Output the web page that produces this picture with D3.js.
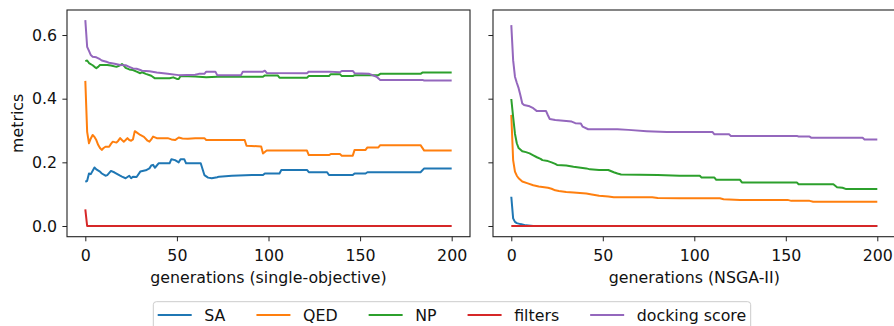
<!DOCTYPE html>
<html>
<head>
<meta charset="utf-8">
<script src="https://cdn.jsdelivr.net/npm/d3@7"></script>
<style>
  body { margin: 0; background: #fff; }
  svg { display: block; font-family: "DejaVu Sans", sans-serif; }
</style>
</head>
<body>
<script>
// series names and colours (matplotlib tab10)
var seriesNames = ["SA", "QED", "NP", "filters", "docking score"];
var seriesColors = ["#1f77b4", "#ff7f0e", "#2ca02c", "#d62728", "#9467bd"];

var xTicks = [0, 50, 100, 150, 200];
var yTicks = [0, 0.2, 0.4, 0.6];
var xLabels = ["generations (single-objective)", "generations (NSGA-II)"];
var yLabel = "metrics";

// single-objective run: [generation, value]
var saSingle = [[0,0.139],[1,0.142],[2,0.165],[3,0.163],[5,0.184],[6,0.178],[8,0.171],[9,0.165],[11,0.158],[12,0.160],[14,0.173],[16,0.168],[19,0.158],[20,0.155],[22,0.150],[23,0.154],[24,0.158],[25,0.150],[26,0.155],[28,0.154],[30,0.171],[33,0.175],[35,0.181],[36,0.190],[37,0.192],[38,0.183],[40,0.197],[46,0.197],[47,0.210],[49,0.207],[51,0.200],[52,0.210],[54,0.210],[55,0.197],[63,0.197],[65,0.160],[67,0.152],[69,0.150],[72,0.153],[73,0.155],[80,0.158],[91,0.160],[97,0.160],[98,0.165],[106,0.165],[107,0.176],[121,0.176],[122,0.169],[132,0.169],[133,0.160],[146,0.160],[147,0.165],[153,0.165],[154,0.169],[183,0.169],[185,0.181],[200,0.181]];
var qedSingle = [[0,0.456],[1,0.296],[2,0.260],[3,0.275],[4,0.286],[5,0.280],[6,0.270],[7,0.255],[8,0.245],[9,0.239],[10,0.245],[11,0.249],[13,0.249],[14,0.258],[15,0.265],[17,0.262],[18,0.268],[19,0.276],[20,0.270],[21,0.265],[22,0.270],[23,0.276],[24,0.270],[25,0.268],[26,0.272],[27,0.298],[28,0.294],[30,0.286],[32,0.280],[34,0.268],[35,0.265],[36,0.272],[37,0.281],[39,0.276],[45,0.276],[47,0.272],[49,0.270],[51,0.278],[53,0.275],[56,0.274],[60,0.276],[65,0.276],[66,0.270],[87,0.270],[88,0.252],[96,0.250],[97,0.228],[99,0.237],[121,0.237],[122,0.223],[133,0.223],[134,0.226],[139,0.226],[140,0.221],[146,0.221],[147,0.239],[153,0.239],[154,0.247],[160,0.247],[161,0.254],[183,0.254],[185,0.237],[200,0.237]];
var npSingle = [[0,0.518],[1,0.520],[2,0.512],[4,0.505],[5,0.500],[6,0.496],[7,0.500],[8,0.506],[12,0.506],[14,0.504],[17,0.500],[19,0.505],[20,0.509],[21,0.504],[22,0.497],[24,0.492],[26,0.490],[28,0.485],[30,0.480],[31,0.483],[33,0.478],[36,0.472],[38,0.464],[46,0.464],[48,0.467],[50,0.462],[51,0.462],[52,0.471],[60,0.470],[64,0.468],[66,0.467],[72,0.469],[97,0.469],[98,0.473],[105,0.473],[106,0.466],[121,0.466],[122,0.471],[133,0.471],[134,0.477],[139,0.477],[140,0.471],[146,0.471],[147,0.474],[160,0.474],[161,0.478],[183,0.478],[184,0.482],[200,0.482]];
var filtersSingle = [[0,0.052],[1,0],[200,0]];
var dockSingle = [[0,0.647],[1,0.563],[2,0.550],[3,0.537],[4,0.532],[6,0.530],[8,0.524],[9,0.520],[12,0.515],[13,0.513],[16,0.510],[19,0.506],[22,0.505],[24,0.500],[26,0.495],[28,0.494],[30,0.490],[31,0.488],[35,0.486],[39,0.482],[45,0.478],[51,0.474],[60,0.475],[62,0.478],[65,0.478],[66,0.485],[71,0.485],[72,0.474],[85,0.474],[86,0.485],[97,0.485],[98,0.488],[99,0.481],[121,0.480],[122,0.485],[133,0.485],[139,0.483],[140,0.487],[146,0.487],[147,0.480],[155,0.478],[159,0.469],[161,0.459],[184,0.459],[185,0.457],[200,0.457]];

// NSGA-II run: [generation, value]
var saNsga = [[0,0.092],[1,0.024],[2,0.013],[3,0.009],[5,0.006],[8,0.002],[12,0],[200,0]];
var qedNsga = [[0,0.349],[1,0.207],[2,0.171],[3,0.158],[4,0.150],[6,0.140],[9,0.134],[12,0.128],[15,0.124],[20,0.120],[22,0.117],[24,0.112],[26,0.110],[30,0.107],[34,0.105],[41,0.102],[44,0.099],[48,0.095],[53,0.093],[56,0.090],[77,0.090],[80,0.088],[92,0.087],[114,0.087],[116,0.084],[125,0.082],[151,0.082],[153,0.079],[163,0.079],[165,0.076],[200,0.076]];
var npNsga = [[0,0.399],[1,0.343],[2,0.290],[3,0.260],[4,0.245],[6,0.235],[8,0.232],[10,0.228],[12,0.222],[14,0.216],[16,0.211],[17,0.207],[20,0.204],[22,0.200],[24,0.195],[25,0.192],[30,0.190],[34,0.186],[38,0.183],[41,0.181],[43,0.178],[48,0.176],[53,0.176],[56,0.169],[58,0.165],[60,0.162],[80,0.160],[92,0.158],[103,0.158],[104,0.152],[111,0.152],[112,0.145],[125,0.145],[126,0.137],[156,0.137],[157,0.131],[176,0.131],[178,0.122],[181,0.120],[183,0.116],[200,0.116]];
var filtersNsga = [[0,0],[200,0]];
var dockNsga = [[0,0.631],[1,0.521],[2,0.469],[3,0.450],[4,0.433],[5,0.410],[6,0.385],[7,0.380],[10,0.376],[12,0.370],[14,0.361],[19,0.361],[20,0.348],[21,0.336],[24,0.333],[30,0.330],[33,0.328],[35,0.323],[38,0.322],[39,0.312],[42,0.304],[58,0.304],[64,0.302],[74,0.298],[85,0.295],[110,0.295],[111,0.288],[119,0.288],[120,0.283],[156,0.283],[157,0.281],[163,0.281],[164,0.277],[192,0.277],[193,0.272],[200,0.272]];

var singleSeries = [saSingle, qedSingle, npSingle, filtersSingle, dockSingle];
var nsgaSeries = [saNsga, qedNsga, npNsga, filtersNsga, dockNsga];

// figure size
var w = 894, h = 326;
var plotTop = 10, plotBottom = 236.7;
var fontSize = 15.8;

var svg = d3.select("body").append("svg")
    .attr("width", w)
    .attr("height", h)
    .style("font-size", fontSize + "px");

var y = d3.scaleLinear().domain([-0.0336, 0.6786]).range([plotBottom, plotTop]);

var panels = [
  { left: 67, right: 470, data: singleSeries, label: xLabels[0], showY: true },
  { left: 493, right: 895.6, data: nsgaSeries, label: xLabels[1], showY: false }
];

panels.forEach(function(p) {
  var x = d3.scaleLinear().domain([-10, 210]).range([p.left, p.right]);
  var g = svg.append("g");

  var line = d3.line()
      .x(function(d) { return x(d[0]); })
      .y(function(d) { return y(d[1]); });

  g.selectAll("path.series")
    .data(p.data)
    .enter()
    .append("path")
    .attr("class", "series")
    .attr("d", line)
    .style("fill", "none")
    .style("stroke", function(d, i) { return seriesColors[i]; })
    .style("stroke-width", 2)
    .style("stroke-linejoin", "round");

  // x axis
  var xAxis = g.append("g")
      .attr("transform", "translate(0," + plotBottom + ")")
      .call(d3.axisBottom(x).tickValues(xTicks).tickSize(4.6).tickPadding(8).tickSizeOuter(0));
  xAxis.select(".domain").remove();
  xAxis.selectAll("line").style("stroke", "#222").style("stroke-width", 1);
  xAxis.selectAll("text").style("font-size", fontSize + "px").style("font-family", "DejaVu Sans").style("fill", "#111");

  // y axis
  var yAxis = g.append("g")
      .attr("transform", "translate(" + p.left + ",0)")
      .call(d3.axisLeft(y).tickValues(yTicks).tickSize(4.6).tickPadding(5.4)
        .tickFormat(p.showY ? d3.format(".1f") : function() { return ""; }));
  yAxis.select(".domain").remove();
  yAxis.selectAll("line").style("stroke", "#222").style("stroke-width", 1);
  yAxis.selectAll("text").style("font-size", fontSize + "px").style("font-family", "DejaVu Sans").style("fill", "#111");

  // spines
  g.append("rect")
    .attr("x", p.left)
    .attr("y", plotTop)
    .attr("width", p.right - p.left)
    .attr("height", plotBottom - plotTop)
    .style("fill", "none")
    .style("stroke", "#222")
    .style("stroke-width", 1.1);

  g.append("text")
    .attr("x", (x(-10) + x(210)) / 2)
    .attr("y", 283)
    .attr("text-anchor", "middle")
    .style("fill", "#111")
    .text(p.label);
});

svg.append("text")
  .attr("transform", "translate(22.7," + ((plotTop + plotBottom) / 2) + ") rotate(-90)")
  .attr("text-anchor", "middle")
  .style("fill", "#111")
  .text(yLabel);

// legend
var legend = svg.append("g");
var box = legend.append("rect")
    .attr("x", 153.3)
    .attr("y", 301.7)
    .attr("height", 34)
    .attr("rx", 3)
    .style("fill", "#fff")
    .style("stroke", "#ccc")
    .style("stroke-width", 1);

var lx = 157.7, ly = 315;
seriesNames.forEach(function(name, i) {
  legend.append("line")
    .attr("x1", lx).attr("x2", lx + 34)
    .attr("y1", ly).attr("y2", ly)
    .style("stroke", seriesColors[i])
    .style("stroke-width", 2);
  var t = legend.append("text")
    .attr("x", lx + 46.6)
    .attr("y", ly + 5.6)
    .style("fill", "#111")
    .text(name);
  var tw = t.node().getComputedTextLength();
  lx = lx + 46.6 + tw + 31;
});
box.attr("width", lx - 31 + 4.5 - 153.3);
</script>
</body>
</html>
